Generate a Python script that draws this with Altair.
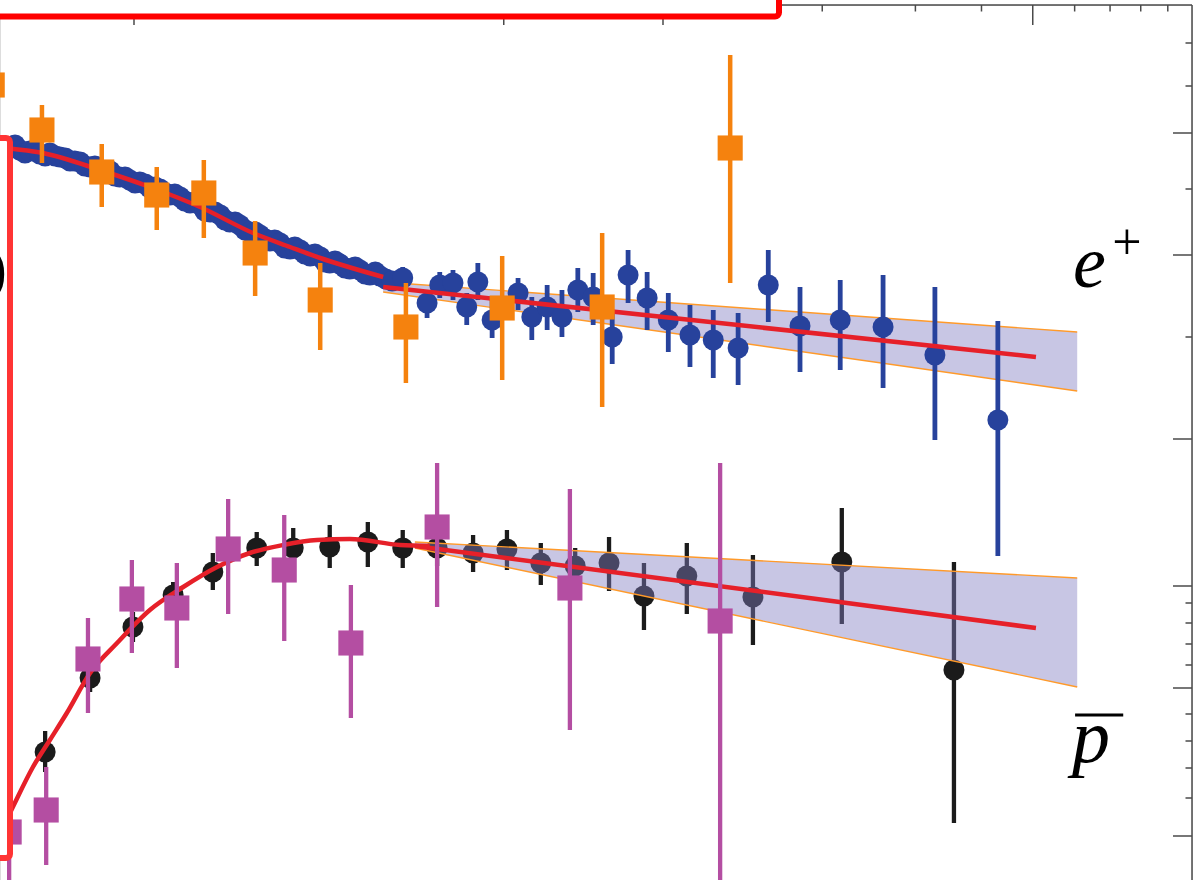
import altair as alt
import pandas as pd
import numpy as np

# x = log10(E) (top axis is logarithmic), y = scaled flux (arbitrary units)
X_MIN, X_MAX = -1.2533, 1.0
Y_MIN, Y_MAX = 0.0, 8.75
W, H = 1192, 875

# ---- e+ (AMS, blue) dense low-energy points
ep_dense_x = [-1.234,-1.225,-1.216,-1.206,-1.197,-1.187,-1.178,-1.168,-1.159,-1.149,
              -1.140,-1.130,-1.121,-1.112,-1.102,-1.093,-1.083,-1.074,-1.064,-1.055,
              -1.045,-1.036,-1.027,-1.017,-1.008,-0.998,-0.989,-0.979,-0.970,-0.960,
              -0.951,-0.941,-0.932,-0.923,-0.913,-0.904,-0.894,-0.885,-0.875,-0.866,
              -0.856,-0.847,-0.837,-0.828,-0.819,-0.809,-0.800,-0.790,-0.781,-0.771,
              -0.762,-0.752,-0.743,-0.734,-0.724,-0.715,-0.705,-0.696,-0.686,-0.677,
              -0.667,-0.658,-0.648,-0.639,-0.630,-0.620,-0.611,-0.601,-0.592,-0.582,
              -0.573,-0.563,-0.554,-0.544,-0.535,-0.524,-0.512]
ep_dense_y = [7.32,7.35,7.30,7.27,7.29,7.30,7.26,7.24,7.27,7.24,
              7.23,7.22,7.19,7.19,7.18,7.14,7.13,7.14,7.10,7.08,
              7.09,7.04,7.03,7.03,7.00,6.97,6.98,6.96,6.92,6.93,
              6.91,6.87,6.85,6.86,6.83,6.79,6.77,6.78,6.75,6.69,
              6.68,6.68,6.65,6.60,6.58,6.58,6.55,6.50,6.48,6.48,
              6.45,6.41,6.39,6.40,6.37,6.32,6.31,6.33,6.30,6.26,
              6.24,6.26,6.23,6.18,6.17,6.19,6.16,6.12,6.11,6.13,
              6.10,6.06,6.05,6.08,6.04,6.01,5.99]

# ---- e+ (AMS, blue) higher-energy points with errors
ep_x  = [-0.492,-0.446,-0.422,-0.397,-0.371,-0.350,-0.323,-0.274,-0.248,-0.219,
         -0.191,-0.161,-0.132,-0.096,-0.066,-0.030, 0.010, 0.051, 0.095, 0.142,
          0.199, 0.259, 0.335, 0.416, 0.514, 0.633]
ep_y  = [6.02,5.77,5.95,5.97,5.73,5.98,5.60,5.87,5.63,5.73,
         5.63,5.90,5.83,5.43,6.05,5.82,5.60,5.45,5.40,5.32,
         5.95,5.54,5.60,5.53,5.25,4.60]
ep_lo = [5.90,5.62,5.82,5.80,5.55,5.80,5.42,5.70,5.40,5.50,
         5.43,5.68,5.55,5.16,5.77,5.50,5.28,5.13,5.02,4.95,
         5.58,5.08,5.10,4.92,4.40,3.24]
ep_hi = [6.13,5.90,6.08,6.10,5.87,6.17,5.80,6.02,5.83,5.95,
         5.90,6.12,6.07,5.70,6.30,6.08,5.87,5.75,5.70,5.67,
         6.30,5.93,6.00,6.05,5.93,5.59]

# ---- e+ (other experiment, orange squares)
eo_x  = [-1.268,-1.174,-1.061,-0.957,-0.868,-0.771,-0.648,-0.486,-0.304,-0.115, 0.127]
eo_y  = [7.95, 7.50, 7.08, 6.85, 6.87, 6.27, 5.80, 5.53, 5.72, 5.73, 7.32]
eo_lo = [7.80, 7.17, 6.73, 6.50, 6.42, 5.84, 5.30, 4.97, 5.00, 4.73, 5.97]
eo_hi = [8.10, 7.75, 7.36, 7.13, 7.20, 6.59, 6.17, 5.97, 6.24, 6.47, 8.25]

# ---- anti-protons (AMS, black)
pb_x  = [-1.168,-1.083,-1.002,-0.926,-0.851,-0.768,-0.699,-0.630,-0.558,-0.492,
         -0.427,-0.359,-0.295,-0.231,-0.166,-0.102,-0.036, 0.045, 0.170, 0.338, 0.550]
pb_y  = [1.28,2.02,2.53,2.85,3.08,3.32,3.32,3.33,3.38,3.32,
         3.32,3.27,3.31,3.17,3.14,3.17,2.84,3.04,2.83,3.18,2.10]
pb_lo = [1.08,1.88,2.38,2.72,2.90,3.14,3.12,3.12,3.13,3.12,
         3.14,3.08,3.10,2.95,2.92,2.89,2.50,2.66,2.35,2.56,0.57]
pb_hi = [1.49,2.15,2.68,2.98,3.27,3.48,3.52,3.55,3.58,3.50,
         3.50,3.45,3.50,3.37,3.32,3.43,3.17,3.37,3.25,3.72,3.18]

# ---- anti-protons (other experiment, magenta squares)
pm_x  = [-1.236,-1.166,-1.087,-1.004,-0.919,-0.822,-0.716,-0.590,-0.427,-0.176, 0.108]
pm_y  = [0.48, 0.70, 2.21, 2.81, 2.72, 3.31, 3.10, 2.37, 3.53, 2.92, 2.59]
pm_lo = [-0.20, 0.15, 1.67, 2.27, 2.12, 2.66, 2.39, 1.62, 2.73, 1.50, -0.20]
pm_hi = [0.90, 1.13, 2.62, 3.20, 3.17, 3.81, 3.65, 2.95, 4.17, 3.91, 4.17]

# ---- model curves
ep_curve_x = [-1.263,-1.253,-1.172,-1.064,-0.970,-0.875,-0.775,-0.705,-0.648,-0.529]
ep_curve_y = [7.34, 7.33, 7.27, 7.10, 6.93, 6.73, 6.47, 6.33, 6.22, 6.03]
pb_curve_x = [-1.253,-1.229,-1.191,-1.159,-1.127,-1.083,-1.032,-0.970,-0.907,-0.843,
              -0.781,-0.718,-0.654,-0.592,-0.497,-0.441]
pb_curve_y = [0.47, 0.73, 1.13, 1.40, 1.67, 2.07, 2.37, 2.70, 2.93, 3.13,
              3.27, 3.35, 3.40, 3.41, 3.35, 3.34]

# ---- power-law extrapolations and uncertainty bands
ep_line_x, ep_line_y = [-0.529, 0.705], [5.93, 5.23]
ep_band_x, ep_band_top, ep_band_bot = [-0.529, 0.783], [5.98, 5.48], [5.88, 4.89]
pb_line_x, pb_line_y = [-0.469, 0.705], [3.34, 2.52]
pb_band_x, pb_band_top, pb_band_bot = [-0.469, 0.783], [3.38, 3.02], [3.32, 1.93]

# ---- frame ticks
top_tick_E = [0.06, 0.07, 0.08, 0.09, 0.1, 0.2, 0.3, 0.4, 0.5, 0.6, 0.7, 0.8, 0.9,
              1, 2, 3, 4, 5, 6, 7, 8, 9]
top_major_E = [0.1, 0.5, 1, 5]
right_major = [7.47, 6.25, 4.41, 2.94, 1.92, 0.44]
right_minor = [8.37, 7.94, 6.91, 5.43, 2.77, 2.57, 2.36, 2.15, 1.66, 1.39, 1.12, 0.82]

BLUE = "#27429c"
ORANGE = "#f5820e"
BLACK = "#1b1b1b"
MAGENTA = "#b44ea2"
RED = "#e62029"
EDGE = "#ff9a2a"
FRAME = "#4a4a4a"
SERIF = "Liberation Serif"

xs = alt.Scale(domain=[X_MIN, X_MAX], nice=False, zero=False)
ys = alt.Scale(domain=[Y_MIN, Y_MAX], nice=False, zero=False)


def X(f):
    return alt.X(f, type="quantitative", scale=xs, axis=None)


def Y(f):
    return alt.Y(f, type="quantitative", scale=ys, axis=None)


ep_dense = pd.DataFrame({"x": ep_dense_x, "y": ep_dense_y})
ep = pd.DataFrame({"x": ep_x, "y": ep_y, "lo": ep_lo, "hi": ep_hi})
eo = pd.DataFrame({"x": eo_x, "y": eo_y, "lo": eo_lo, "hi": eo_hi})
pb = pd.DataFrame({"x": pb_x, "y": pb_y, "lo": pb_lo, "hi": pb_hi})
pm = pd.DataFrame({"x": pm_x, "y": pm_y, "lo": pm_lo, "hi": pm_hi})
epc = pd.DataFrame({"x": ep_curve_x, "y": ep_curve_y})
pbc = pd.DataFrame({"x": pb_curve_x, "y": pb_curve_y})
epl = pd.DataFrame({"x": ep_line_x, "y": ep_line_y})
pbl = pd.DataFrame({"x": pb_line_x, "y": pb_line_y})
epb = pd.DataFrame({"x": ep_band_x, "top": ep_band_top, "bot": ep_band_bot})
pbb = pd.DataFrame({"x": pb_band_x, "top": pb_band_top, "bot": pb_band_bot})

CIRCLE = 440
SQUARE = 630


def errbars(df, color, width):
    return alt.Chart(df).mark_rule(color=color, strokeWidth=width, clip=True).encode(
        x=X("x"), y=Y("lo"), y2=alt.Y2("hi"))


def points(df, color, shape, size):
    return alt.Chart(df).mark_point(filled=True, shape=shape, size=size, color=color,
                                    opacity=1, clip=True).encode(x=X("x"), y=Y("y"))


def band(df, fill, opacity):
    return alt.Chart(df).mark_area(color=fill, opacity=opacity, clip=True).encode(
        x=X("x"), y=Y("top"), y2=alt.Y2("bot"))


def band_edges(df):
    a = alt.Chart(df).mark_line(color=EDGE, strokeWidth=1.4, clip=True).encode(x=X("x"), y=Y("top"))
    b = alt.Chart(df).mark_line(color=EDGE, strokeWidth=1.4, clip=True).encode(x=X("x"), y=Y("bot"))
    return [a, b]


def redline(df, interp="linear", width=4.5):
    return alt.Chart(df).mark_line(color=RED, strokeWidth=width, interpolate=interp,
                                   clip=True).encode(x=X("x"), y=Y("y"))


layers = []
# e+ band (beneath the data)
layers.append(band(epb, "#c8c6e4", 1.0))
layers += band_edges(epb)
# AMS e+
layers.append(points(ep_dense, BLUE, "circle", CIRCLE))
layers.append(errbars(ep, BLUE, 4.8))
layers.append(points(ep, BLUE, "circle", CIRCLE))
# AMS pbar
layers.append(errbars(pb, BLACK, 4.3))
layers.append(points(pb, BLACK, "circle", CIRCLE))
# pbar band (translucent, over the black points)
layers.append(band(pbb, "#827dc2", 0.44))
layers += band_edges(pbb)
# model curves and extrapolations
layers.append(redline(epc, "monotone", 4.5))
layers.append(redline(pbc, "monotone", 4.5))
layers.append(redline(epl, "linear", 4.5))
layers.append(redline(pbl, "linear", 4.5))
# other experiments
layers.append(errbars(eo, ORANGE, 4.5))
layers.append(points(eo, ORANGE, "square", SQUARE))
layers.append(errbars(pm, MAGENTA, 4.3))
layers.append(points(pm, MAGENTA, "square", SQUARE))

# frame: top and right borders with inward ticks
one = pd.DataFrame({"a": [0]})
layers.append(alt.Chart(one).mark_rule(color=FRAME, strokeWidth=1.5).encode(
    x=alt.value(0), x2=alt.value(W), y=alt.value(0)))
layers.append(alt.Chart(one).mark_rule(color=FRAME, strokeWidth=1.5).encode(
    x=alt.value(W), y=alt.value(0), y2=alt.value(H)))

tmaj = pd.DataFrame({"x": np.log10([e for e in top_tick_E if e in top_major_E])})
tmin = pd.DataFrame({"x": np.log10([e for e in top_tick_E if e not in top_major_E])})
layers.append(alt.Chart(tmaj).mark_rule(color=FRAME, strokeWidth=1.5).encode(
    x=X("x"), y=alt.value(0), y2=alt.value(20)))
layers.append(alt.Chart(tmin).mark_rule(color=FRAME, strokeWidth=1.5).encode(
    x=X("x"), y=alt.value(0), y2=alt.value(6.5)))

rmaj = pd.DataFrame({"y": right_major})
rmin = pd.DataFrame({"y": right_minor})
layers.append(alt.Chart(rmaj).mark_rule(color=FRAME, strokeWidth=1.5).encode(
    y=Y("y"), x=alt.value(W - 19), x2=alt.value(W)))
layers.append(alt.Chart(rmin).mark_rule(color=FRAME, strokeWidth=1.5).encode(
    y=Y("y"), x=alt.value(W - 6.5), x2=alt.value(W)))

# red highlight boxes (white-filled) at the edges of the crop
layers.append(alt.Chart(one).mark_rect(fill="white", stroke="#ff0000", strokeWidth=6,
                                       cornerRadius=4).encode(
    x=alt.value(-30), x2=alt.value(779), y=alt.value(-30), y2=alt.value(11.5)))
layers.append(alt.Chart(one).mark_rect(fill="white", stroke="#ff3434", strokeWidth=6,
                                       cornerRadius=4).encode(
    x=alt.value(-30), x2=alt.value(10), y=alt.value(133), y2=alt.value(853)))
layers.append(alt.Chart(one).mark_text(text=")", font=SERIF, fontSize=62, align="right",
                                       baseline="middle", color="black").encode(
    x=alt.value(7), y=alt.value(265)))

# particle labels
lab = pd.DataFrame({"x": [0.775], "y": [5.93]})
layers.append(alt.Chart(lab).mark_text(text="e", font=SERIF, fontStyle="italic", fontSize=74,
                                       align="left", baseline="alphabetic", color="black").encode(
    x=X("x"), y=Y("y")))
lab2 = pd.DataFrame({"x": [0.877], "y": [6.37]})
layers.append(alt.Chart(lab2).mark_text(text="+", font=SERIF, fontSize=52, align="center",
                                        baseline="middle", color="black").encode(
    x=X("x"), y=Y("y")))
lab3 = pd.DataFrame({"x": [0.773], "y": [1.18]})
layers.append(alt.Chart(lab3).mark_text(text="p", font=SERIF, fontStyle="italic", fontSize=76,
                                        align="left", baseline="alphabetic", color="black").encode(
    x=X("x"), y=Y("y")))
bar = pd.DataFrame({"x": [0.779], "x2": [0.870], "y": [1.65]})
layers.append(alt.Chart(bar).mark_rule(color="black", strokeWidth=3).encode(
    x=X("x"), x2=alt.X2("x2"), y=Y("y")))

chart = alt.layer(*layers).properties(
    width=W, height=H,
    padding={"left": 0, "top": 5, "right": 5, "bottom": 0},
    autosize=alt.AutoSizeParams(type="none"),
).configure_view(stroke=None).configure(background="white")

chart.save("out.html", embed_options={"renderer": "svg", "actions": False})
